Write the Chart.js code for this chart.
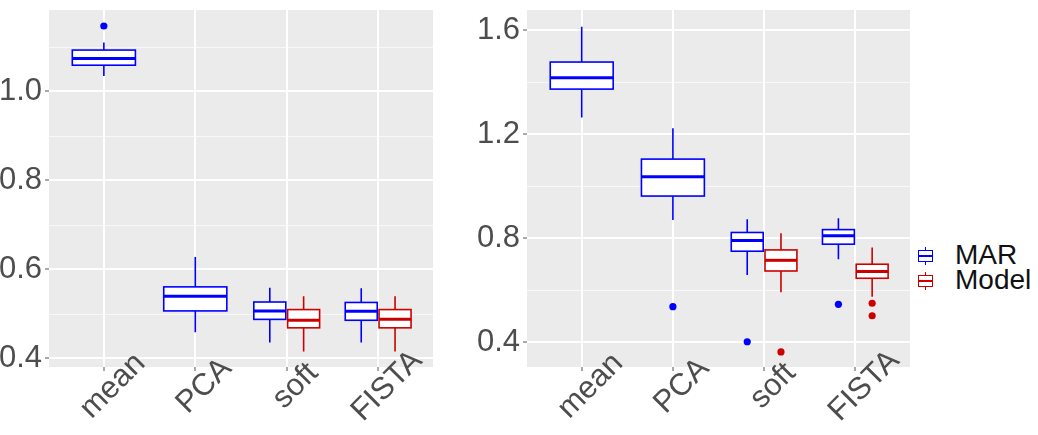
<!DOCTYPE html>
<html>
<head>
<meta charset="utf-8">
<script src="https://cdn.jsdelivr.net/npm/chart.js@4.4.1/dist/chart.umd.min.js"></script>
<style>
  body { margin: 0; background: #fff; }
  #wrap { position: relative; width: 1038px; height: 435px; background: #fff; font-family: "Liberation Sans", Arial, sans-serif; }
  .panel { position: absolute; top: 0; }
  .key { position: absolute; width: 15px; height: 18px; }
  .key .wh { position: absolute; left: 7px; top: 0; width: 1px; height: 18px; }
  .key .bx { position: absolute; left: 0; top: 3px; width: 13px; height: 10px; border: 1px solid; background: #fff; }
  .key .md { position: absolute; left: 0; top: 8px; width: 15px; height: 2px; }
  .lab { position: absolute; left: 955px; font-size: 28px; color: #111; line-height: 28px; }
</style>
</head>
<body>
<div id="wrap">
  <div class="panel" style="left:0;width:460px;height:435px"><canvas id="left" width="460" height="435"></canvas></div>
  <div class="panel" style="left:460px;width:455px;height:435px"><canvas id="right" width="455" height="435"></canvas></div>

  <div class="key" style="left:918px;top:247px">
    <div class="wh" style="background:#0000ff"></div>
    <div class="bx" style="border-color:#0000ff"></div>
    <div class="md" style="background:#0000ff"></div>
  </div>
  <div class="lab" style="top:241px">MAR</div>
  <div class="key" style="left:918px;top:272px">
    <div class="wh" style="background:#cd0000"></div>
    <div class="bx" style="border-color:#cd0000"></div>
    <div class="md" style="background:#cd0000"></div>
  </div>
  <div class="lab" style="top:266px">Model</div>
</div>

<script>
// categories on the x axis
const categories = ['mean', 'PCA', 'soft', 'FISTA'];

// box stats per category: [lower whisker, Q1, median, Q3, upper whisker]
const leftMAR = [
  [1.034, 1.058, 1.073, 1.092, 1.109],
  [0.458, 0.506, 0.539, 0.560, 0.627],
  [0.435, 0.487, 0.506, 0.526, 0.558],
  [0.435, 0.485, 0.505, 0.525, 0.557]
];
const leftModel = [
  null,
  null,
  [0.415, 0.468, 0.485, 0.509, 0.539],
  [0.415, 0.468, 0.487, 0.509, 0.539]
];
const leftMAROutliers = [[1.146], [], [], []];
const leftModelOutliers = [[], [], [], []];

const rightMAR = [
  [1.264, 1.373, 1.417, 1.477, 1.613],
  [0.870, 0.962, 1.036, 1.104, 1.223],
  [0.659, 0.750, 0.791, 0.822, 0.873],
  [0.719, 0.777, 0.809, 0.833, 0.877]
];
const rightModel = [
  null,
  null,
  [0.592, 0.674, 0.715, 0.755, 0.819],
  [0.575, 0.646, 0.672, 0.700, 0.764]
];
const rightMAROutliers = [[], [0.537], [0.402], [0.546]];
const rightModelOutliers = [[], [], [0.363], [0.550, 0.502]];

// y ticks
const leftYMajor = [0.4, 0.6, 0.8, 1.0];
const leftYMinor = [0.5, 0.7, 0.9, 1.1];
const rightYMajor = [0.4, 0.8, 1.2, 1.6];
const rightYMinor = [0.6, 1.0, 1.4];

const BLUE = '#0000ff';
const RED = '#cd0000';
const FONT = '"Liberation Sans", Arial, sans-serif';
const DODGE = 0.185;

// x position of a box / outlier: centred if only MAR exists, dodged otherwise
function xPos(i, model, isModel) {
  if (!model[i]) return i + 1;
  return i + 1 + (isModel ? DODGE : -DODGE);
}

function outlierPoints(outliers, model, isModel) {
  const pts = [];
  outliers.forEach((vals, i) => vals.forEach(v => pts.push({ x: xPos(i, model, isModel), y: v })));
  return pts;
}

function drawBox(ctx, xs, ys, cx, half, s, color) {
  const l = xs.getPixelForValue(cx - half);
  const r = xs.getPixelForValue(cx + half);
  const c = xs.getPixelForValue(cx);
  const [lo, q1, med, q3, hi] = s.map(v => ys.getPixelForValue(v));
  ctx.save();
  ctx.strokeStyle = color;
  ctx.lineWidth = 1.6;
  ctx.beginPath();
  ctx.moveTo(c, hi); ctx.lineTo(c, q3);
  ctx.moveTo(c, q1); ctx.lineTo(c, lo);
  ctx.stroke();
  ctx.fillStyle = '#fff';
  ctx.fillRect(l, q3, r - l, q1 - q3);
  ctx.strokeRect(l, q3, r - l, q1 - q3);
  ctx.lineWidth = 3;
  ctx.beginPath();
  ctx.moveTo(l, med); ctx.lineTo(r, med);
  ctx.stroke();
  ctx.restore();
}

function boxPlugin(mar, model, minor) {
  return {
    id: 'boxes',
    beforeDraw(chart) {
      const { ctx, chartArea: a, scales: { y } } = chart;
      ctx.save();
      ctx.fillStyle = '#ebebeb';
      ctx.fillRect(a.left, a.top, a.right - a.left, a.bottom - a.top);
      // minor grid
      ctx.strokeStyle = '#f8f8f8';
      ctx.lineWidth = 1;
      minor.forEach(v => {
        const py = Math.round(y.getPixelForValue(v)) + 0.5;
        ctx.beginPath();
        ctx.moveTo(a.left, py); ctx.lineTo(a.right, py);
        ctx.stroke();
      });
      ctx.restore();
    },
    beforeDatasetsDraw(chart) {
      const { ctx, scales: { x, y } } = chart;
      mar.forEach((s, i) => {
        const single = !model[i];
        drawBox(ctx, x, y, xPos(i, model, false), single ? 0.345 : 0.175, s, BLUE);
        if (model[i]) drawBox(ctx, x, y, xPos(i, model, true), 0.175, model[i], RED);
      });
    },
    afterDraw(chart) {
      const { ctx, scales: { x } } = chart;
      ctx.save();
      ctx.fillStyle = '#4d4d4d';
      ctx.font = '31px ' + FONT;
      ctx.textAlign = 'center';
      ctx.textBaseline = 'middle';
      categories.forEach((c, i) => {
        ctx.save();
        ctx.translate(x.getPixelForValue(i + 1) + 9, 386);
        ctx.rotate(-Math.PI / 4);
        ctx.fillText(c, 0, 0);
        ctx.restore();
      });
      ctx.restore();
    }
  };
}

function makePanel(id, p) {
  new Chart(document.getElementById(id), {
    type: 'scatter',
    data: {
      datasets: [
        { label: 'MAR', data: outlierPoints(p.marOut, p.model, false), backgroundColor: BLUE, borderWidth: 0, pointRadius: 3.6 },
        { label: 'Model', data: outlierPoints(p.modelOut, p.model, true), backgroundColor: RED, borderWidth: 0, pointRadius: 3.6 }
      ]
    },
    options: {
      responsive: false,
      animation: false,
      layout: { padding: { top: 10, right: p.padRight, left: 0, bottom: 0 } },
      plugins: { legend: { display: false }, tooltip: { enabled: false } },
      scales: {
        x: {
          type: 'linear', min: 0.4, max: 4.6,
          afterBuildTicks: s => { s.ticks = categories.map((c, i) => ({ value: i + 1 })); },
          ticks: { display: false },
          grid: { color: '#fff', lineWidth: 2, tickLength: 4, tickColor: '#555', tickWidth: 1 },
          border: { display: false },
          afterFit: s => { s.height = 68; s.paddingLeft = 0; s.paddingRight = 0; }
        },
        y: {
          type: 'linear', min: p.yMin, max: p.yMax,
          afterBuildTicks: s => { s.ticks = p.major.map(v => ({ value: v })); },
          ticks: { color: '#4d4d4d', font: { size: 31, family: FONT }, padding: 3, callback: v => v.toFixed(1) },
          grid: { color: '#fff', lineWidth: 2, tickLength: 4, tickColor: '#555', tickWidth: 1 },
          border: { display: false },
          afterFit: s => { s.width = p.axisWidth; s.paddingTop = 0; s.paddingBottom = 0; }
        }
      }
    },
    plugins: [boxPlugin(p.mar, p.model, p.minor)]
  });
}

makePanel('left', {
  mar: leftMAR, model: leftModel, marOut: leftMAROutliers, modelOut: leftModelOutliers,
  major: leftYMajor, minor: leftYMinor, yMin: 0.38, yMax: 1.182, axisWidth: 49, padRight: 27
});
makePanel('right', {
  mar: rightMAR, model: rightModel, marOut: rightMAROutliers, modelOut: rightModelOutliers,
  major: rightYMajor, minor: rightYMinor, yMin: 0.305, yMax: 1.677, axisWidth: 67, padRight: 5
});
</script>
</body>
</html>
